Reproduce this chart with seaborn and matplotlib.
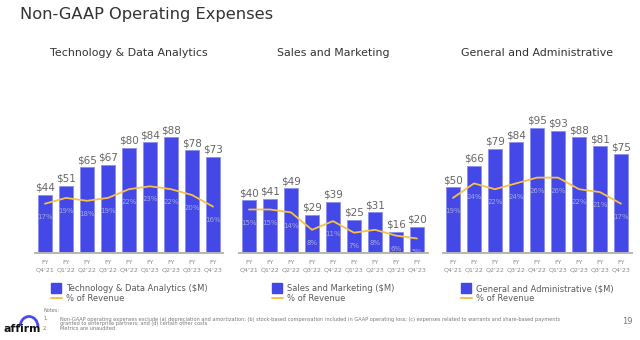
import matplotlib
matplotlib.use("Agg")
import matplotlib.pyplot as plt
from matplotlib.lines import Line2D
from matplotlib.patches import Arc
import seaborn as sns

# Quarterly non-GAAP operating expenses ($M) and share of revenue (%)
quarters = ["Q4'21", "Q1'22", "Q2'22", "Q3'22", "Q4'22", "Q1'23", "Q2'23", "Q3'23", "Q4'23"]
tech_usd = [44, 51, 65, 67, 80, 84, 88, 78, 73]
tech_pct = [17, 19, 18, 19, 22, 23, 22, 20, 16]
sales_usd = [40, 41, 49, 29, 39, 25, 31, 16, 20]
sales_pct = [15, 15, 14, 8, 11, 7, 8, 6, 5]
ga_usd = [50, 66, 79, 84, 95, 93, 88, 81, 75]
ga_pct = [19, 24, 22, 24, 26, 26, 22, 21, 17]

titles = ["Technology & Data Analytics", "Sales and Marketing", "General and Administrative"]
bar_labels = ["Technology & Data Analytics ($M)", "Sales and Marketing ($M)",
              "General and Administrative ($M)"]

BAR = "#4348E6"
BAR_EDGE = "#8a8ef4"
LINE = "#F6C146"
TXT = "#5a5a5a"

sns.set_theme(style="white")
plt.rcParams["font.family"] = ["DejaVu Sans"]

W, H = 640, 340
fig = plt.figure(figsize=(W / 100, H / 100), dpi=100)
fig.patch.set_facecolor("white")

def fx(px):
    return px / W

def fy(py):
    return 1 - py / H

panels = [(tech_usd, tech_pct), (sales_usd, sales_pct), (ga_usd, ga_pct)]
lefts = [34.5, 238.5, 442.5]
base_y, top_y = 253, 120
usd_px, pct_px = 1.317, 2.9
ax_h = base_y - top_y
ax_w = 189

for k, ((usd, pct), left) in enumerate(zip(panels, lefts)):
    ax = fig.add_axes([fx(left), fy(base_y), ax_w / W, ax_h / H])
    sns.barplot(x=quarters, y=usd, color=BAR, saturation=1, width=0.68,
                edgecolor=BAR_EDGE, linewidth=0.6, ax=ax)
    ax.set_xlim(-0.5, len(quarters) - 0.5)
    ax.set_ylim(0, ax_h / usd_px)
    ax.set_yticks([])
    ax.set_ylabel("")
    for side in ["top", "left", "right"]:
        ax.spines[side].set_visible(False)
    ax.spines["bottom"].set_color("#b5b5b5")
    ax.spines["bottom"].set_linewidth(1.4)
    ax.set_xticks(range(len(quarters)))
    ax.set_xticklabels([f"FY\n{q}" for q in quarters], fontsize=4.5,
                       color="#8a8a8a", linespacing=1.6)
    ax.tick_params(axis="x", length=0, pad=5)
    for i, v in enumerate(usd):
        ax.annotate(f"${v}", (i, v), xytext=(0, 1.5), textcoords="offset points",
                    ha="center", va="bottom", fontsize=7.5, color="#666666")

    tw = ax.twinx()
    sns.lineplot(x=list(range(len(quarters))), y=pct, color=LINE, linewidth=1.3, ax=tw)
    tw.set_ylim(0, ax_h / pct_px)
    tw.set_yticks([])
    tw.set_ylabel("")
    for side in tw.spines:
        tw.spines[side].set_visible(False)
    for i, p in enumerate(pct):
        tw.annotate(f"{p}%", (i, p), xytext=(0, -9.5), textcoords="offset points",
                    ha="center", va="center", fontsize=5.0, color="#a7a8dc")

    cx = left + ax_w / 2
    fig.text(fx(cx), fy(53), titles[k], ha="center", va="center",
             fontsize=7.9, color="#333333")

    handles = [
        Line2D([], [], marker="s", linestyle="none", markersize=6.5,
               markerfacecolor=BAR, markeredgecolor=BAR),
        Line2D([], [], color=LINE, linewidth=1.4),
    ]
    fig.legend(handles, [bar_labels[k], "% of Revenue"], loc="upper center",
               bbox_to_anchor=(fx(cx), fy(280)), frameon=False, fontsize=6.0,
               labelcolor=TXT, handlelength=1.3, handletextpad=0.5,
               labelspacing=0.15, borderpad=0, alignment="left")

fig.text(fx(20), fy(14), "Non-GAAP Operating Expenses", ha="left", va="center",
         fontsize=11.7, color="#333333")

# Footnotes
note_kw = dict(fontsize=3.6, color="#777777", va="center", ha="left")
fig.text(fx(43), fy(311), "Notes:", **note_kw)
fig.text(fx(43), fy(319), "1.", **note_kw)
fig.text(fx(60), fy(319),
         "Non-GAAP operating expenses exclude (a) depreciation and amortization; (b) stock-based "
         "compensation included in GAAP operating loss; (c) expenses related to warrants and "
         "share-based payments", **note_kw)
fig.text(fx(60), fy(324), "granted to enterprise partners; and (d) certain other costs", **note_kw)
fig.text(fx(43), fy(329), "2.", **note_kw)
fig.text(fx(60), fy(329), "Metrics are unaudited", **note_kw)
fig.text(fx(627), fy(321), "19", fontsize=6, color="#777777", ha="center", va="center")

# Logo wordmark
fig.text(fx(3), fy(329), "affirm", fontsize=7.8, fontweight="bold", color="#111111",
         ha="left", va="center")
fig.add_artist(Arc((fx(29), fy(327)), fx(18), 21 / H, theta1=0, theta2=170,
                   color="#4A4AF4", linewidth=2.0, transform=fig.transFigure))

fig.savefig("out.png", dpi=100, facecolor="white")
